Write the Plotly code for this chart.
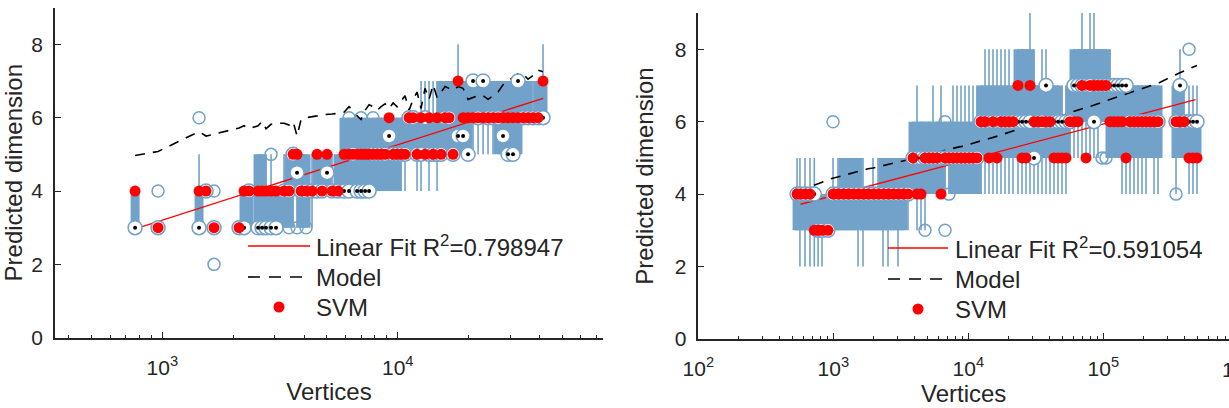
import plotly.graph_objects as go

# ---------------- data: left panel ----------------
L_vertices = [766, 959, 1432, 1533, 1658, 2118, 2224, 2335, 2551, 2652, 2757, 2896, 3041, 3288, 3453,
              3592, 3735, 3884, 4079, 4324, 4542, 4769, 5008, 5259, 5578, 5915, 6210, 6458, 6716, 6985,
              7264, 7554, 7856, 8170, 8497, 8836, 9189, 9557, 9933, 10330, 10740, 11170, 11620, 12080,
              12560, 13060, 13580, 14130, 14690, 15280, 15890, 16520, 17180, 18040, 18950, 19900, 20890,
              21940, 23040, 24190, 25400, 26680, 28010, 29420, 30890, 32430, 34060, 35770, 37560, 39450, 41420]
L_low = [3, 3, 3, 4, 3, 3, 3, 3, 3, 3, 3, 3, 3, 3, 3, 3, 3, 3, 3, 3, 4, 4, 4, 4, 4, 4, 4, 4, 4, 4,
         4, 4, 4, 4, 4, 4, 4, 4, 4, 4, 4, 5, 5, 4, 4, 5, 4, 5, 4, 5, 5, 5, 5, 5, 5, 5, 5, 5, 5, 5,
         5, 5, 5, 5, 5, 5, 6, 6, 6, 6, 6]
L_q1 = [3, 3, 3, 4, 3, 3, 3, 3, 3, 3, 3, 3, 3, 3, 3, 4, 4, 3, 3, 4, 4, 4, 4, 4, 4, 4, 4, 4, 4, 4,
        4, 4, 5, 4, 5, 4, 4, 5, 4, 5, 5, 5, 5, 5, 5, 5, 5, 5, 5, 5, 5, 5, 5, 5, 5, 5, 6, 6, 6, 6,
        6, 5, 5, 5, 5, 5, 6, 6, 6, 6, 6]
L_median = [3, 3, 3, 4, 3, 3, 3, 4, 3, 3, 3, 3, 3, 4, 4, 5, 4.5, 4, 4, 4, 4, 4, 4.5, 4, 4, 4, 4, 5, 4, 4,
            4, 4, 5, 5, 5, 5, 5.5, 5, 5, 5, 5, 6, 6, 5, 5, 6, 5, 5, 5, 5, 6, 6, 5, 5.5, 5.5, 5, 7, 6, 7, 6,
            6, 6, 5.5, 5, 5, 7, 6, 6, 6, 6, 6]
L_q3 = [4, 3, 4, 4, 3, 3, 4, 4, 5, 5, 4, 4, 4, 4, 5, 5, 5, 5, 5, 4, 5, 5, 5, 4, 5, 6, 6, 6, 6, 5,
        6, 5, 6, 6, 6, 6, 6, 6, 6, 6, 6, 6, 6, 6, 6, 6, 6, 6, 6, 7, 7, 7, 7, 7, 7, 7, 7, 7, 7, 7,
        7, 7, 7, 7, 7, 7, 7, 7, 6, 7, 7]
L_high = [4, 3, 5, 4, 3, 3, 4, 4, 5, 5, 5, 5, 4, 5, 5, 5, 5, 5, 5, 5, 5, 5, 5, 5, 5, 6, 6, 6, 6, 6,
          6, 6, 6, 6, 6, 6, 6, 6, 6, 6, 6, 6, 6, 6, 7, 7, 7, 7, 7, 7, 7, 7, 7, 8, 7, 7, 7, 7, 7, 7,
          7, 7, 7, 7, 7, 7, 7, 7, 7, 7, 8]
L_svm = [4, 3, 4, 4, 3, 3, 4, 4, 4, 4, 4, 4, 4, 4, 4, 5, 5, 4, 4, 4, 5, 4, 5, 4, 4, 5, 5, 5, 5, 5,
         5, 5, 5, 5, 5, 5, 6, 5, 5, 5, 5, 6, 6, 5, 6, 5, 6, 5, 6, 5, 6, 6, 5, 7, 6, 6, 6, 6, 6, 6,
         6, 6, 6, 6, 6, 6, 6, 6, 6, 6, 7]
L_model = [4.97, 5.08, 5.62, 5.5, 5.55, 5.72, 5.78, 5.7, 5.78, 5.9, 5.7, 5.82, 5.85, 5.85, 5.8, 5.9, 5.5,
           5.95, 6.0, 6.02, 6.05, 6.08, 6.1, 6.1, 6.12, 6.15, 6.3, 6.2, 6.05, 5.95, 6.2, 6.35, 6.3, 6.2,
           6.3, 6.38, 6.25, 6.4, 6.3, 6.45, 6.6, 6.2, 6.5, 6.7, 6.25, 6.8, 6.5, 6.9, 6.55, 6.7, 6.85, 6.8,
           6.75, 6.85, 6.8, 6.5, 6.55, 6.6, 6.6, 6.5, 6.6, 6.7, 6.9, 7.0, 7.1, 7.2, 7.2, 7.05, 7.15, 7.3, 7.25]
L_outlier_x = [959, 1432, 1658, 1658, 2896, 3453, 3735, 4079, 6210, 6985, 7856]
L_outlier_y = [4, 6, 4, 2, 5, 3, 3, 3, 6, 6, 6]
L_fit_x = [766, 41500]
L_fit_y = [2.97, 6.53]
L_r2 = "0.798947"

# ---------------- data: right panel ----------------
R_vertices = [539, 566, 617, 672, 723, 771, 825, 913, 995, 1083, 1180, 1285, 1400, 1524, 1660, 1807, 1968,
              2144, 2334, 2542, 2768, 3015, 3283, 3576, 3894, 4169, 4463, 4778, 5115, 5476, 5864, 6278,
              6721, 7195, 7704, 8248, 8831, 9454, 10120, 10835, 11600, 12420, 13296, 14234, 15241, 16316,
              17467, 18702, 20023, 21436, 23340, 24990, 26760, 28640, 30670, 32830, 35140, 37640, 40290,
              43130, 46170, 49430, 52920, 56660, 60670, 64940, 69520, 74450, 79680, 85320, 91340, 97820,
              104700, 112100, 120000, 128500, 137600, 147300, 157700, 168800, 180700, 193500, 207200,
              221800, 237500, 254300, 345600, 370000, 396100, 431400, 461800, 494400]
R_low = [3, 2, 2, 2, 2, 2, 2, 3, 3, 3, 3, 3, 3, 2, 2, 3, 3, 3, 2, 2, 3, 2, 3, 3, 4, 3, 3, 3, 4, 4, 4, 4,
         4, 4, 4, 4, 4, 4, 4, 4, 4, 4, 4, 4, 4, 4, 4, 4, 4, 4, 4, 4, 4, 4, 4, 4, 4, 4, 4, 4, 4, 4, 4, 5,
         5, 5, 5, 5, 5, 5, 5, 6, 6, 5, 5, 5, 4, 4, 4, 4, 4, 4, 4, 5, 4, 4, 4, 5, 5, 4, 4, 4]
R_q1 = [3, 3, 3, 3, 3, 3, 3, 3, 3, 3, 3, 3, 3, 3, 3, 3, 3, 3, 3, 3, 3, 3, 3, 4, 4, 4, 4, 4, 4, 4, 4, 4,
        5, 5, 4, 4, 4, 4, 4, 4, 4, 5, 5, 5, 5, 5, 5, 5, 5, 5, 5, 5, 5, 5, 5, 5, 5, 5, 5, 5, 5, 5, 5, 6,
        6, 6, 6, 6, 6, 6, 6, 6, 6, 5, 5, 5, 5, 5, 5, 5, 5, 5, 5, 5, 5, 5, 5, 5, 5, 5, 5, 5]
R_median = [4, 4, 4, 4, 4, 3, 3, 3, 4, 4, 4, 4, 4, 4, 4, 4, 4, 4, 4, 4, 4, 4, 4, 4, 5, 5, 5, 5, 5, 5, 5, 5,
            5, 5, 5, 5, 5, 5, 5, 5, 5, 6, 6, 6, 6, 6, 6, 6, 6, 6, 6, 6, 6, 6, 5, 6, 6, 7, 6, 6, 6, 6, 6, 6,
            7, 7, 7, 7, 7, 6, 7, 7, 7, 7, 7, 7, 7, 7, 6, 6, 6, 6, 6, 6, 6, 6, 6, 7, 6, 6, 6, 6]
R_q3 = [4, 4, 4, 4, 4, 4, 4, 4, 4, 4, 5, 5, 5, 5, 4, 4, 4, 4, 5, 5, 5, 5, 5, 5, 6, 6, 6, 6, 6, 6, 6, 6,
        6, 6, 6, 6, 6, 6, 6, 6, 6, 7, 7, 7, 7, 7, 7, 7, 7, 7, 8, 8, 8, 8, 7, 7, 7, 7, 7, 7, 7, 6, 6, 7,
        8, 8, 8, 8, 8, 8, 8, 8, 8, 7, 7, 7, 7, 7, 7, 7, 7, 7, 7, 7, 7, 7, 7, 7, 6, 6, 6, 6]
R_high = [5, 5, 5, 5, 5, 4, 4, 4, 5, 5, 5, 5, 5, 5, 5, 4, 5, 5, 5, 5, 5, 5, 5, 5, 6, 7, 6, 6, 6, 7, 6, 7,
          6, 6, 7, 7, 7, 7, 7, 7, 7, 7, 8, 8, 8, 8, 8, 8, 8, 7, 8, 8, 8, 9, 8, 7, 8, 8, 7, 7, 7, 7, 7, 7,
          8, 8, 9, 8, 9, 9, 8, 8, 8, 8, 7, 7, 7, 7, 7, 7, 7, 7, 7, 7, 7, 7, 7, 8, 7, 7, 7, 7]
R_svm = [4, 4, 4, 4, 3, 3, 3, 3, 4, 4, 4, 4, 4, 4, 4, 4, 4, 4, 4, 4, 4, 4, 4, 4, 5, 4, 4, 5, 5, 5, 5, 4,
         5, 5, 5, 5, 5, 5, 5, 5, 5, 6, 6, 5, 6, 5, 6, 6, 6, 6, 7, 5, 5, 7, 6, 6, 6, 6, 6, 5, 5, 5, 5, 6,
         6, 6, 7, 5, 7, 7, 7, 7, 7, 6, 6, 6, 6, 5, 6, 6, 6, 6, 6, 6, 6, 6, 6, 6, 6, 5, 5, 5]
R_model = [4.08, 4.1, 4.15, 4.2, 4.24, 4.28, 4.33, 4.4, 4.44, 4.48, 4.52, 4.56, 4.59, 4.63, 4.66, 4.7, 4.72,
           4.75, 4.79, 4.82, 4.85, 4.88, 4.92, 4.95, 4.98, 5.01, 5.04, 5.06, 5.09, 5.12, 5.15, 5.17, 5.2,
           5.23, 5.26, 5.29, 5.31, 5.34, 5.37, 5.4, 5.43, 5.46, 5.5, 5.53, 5.57, 5.6, 5.63, 5.67, 5.71,
           5.75, 5.8, 5.83, 5.86, 5.88, 5.92, 5.96, 6.0, 6.04, 6.07, 6.1, 6.13, 6.16, 6.2, 6.25, 6.29,
           6.32, 6.35, 6.39, 6.42, 6.46, 6.5, 6.54, 6.57, 6.6, 6.64, 6.68, 6.72, 6.76, 6.8, 6.84, 6.87,
           6.91, 6.95, 6.98, 7.02, 7.06, 7.3, 7.34, 7.4, 7.46, 7.5, 7.55]
R_outlier_x = [995, 4778, 6721, 6721, 7195, 97820, 104700, 345600, 431400]
R_outlier_y = [6, 3, 3, 6, 4, 5, 5, 4, 8]
R_fit_x = [572, 482000]
R_fit_y = [3.72, 6.61]
R_r2 = "0.591054"

y_ticks = [0, 2, 4, 6, 8]
L_xticks = [1000, 10000]
L_xticktext = ["10<sup>3</sup>", "10<sup>4</sup>"]
R_xticks = [100, 1000, 10000, 100000]
R_xticktext = ["10<sup>2</sup>", "10<sup>3</sup>", "10<sup>4</sup>", "10<sup>5</sup>"]

BLUE = "#72a2c9"
RED = "#ff0000"
INK = "#262626"
FONT = "Liberation Sans, Arial, Helvetica, sans-serif"
W, H = 1229, 408


def segs(xs, a, b):
    sx, sy = [], []
    for x, lo, hi in zip(xs, a, b):
        sx += [x, x, None]
        sy += [lo, hi, None]
    return sx, sy


def add_panel(fig, xa, ya, X, LO, Q1, MED, Q3, HI, SVM, MODEL, OX, OY, FX, FY):
    wx, wy = segs(X, LO, HI)
    fig.add_trace(go.Scatter(x=wx, y=wy, mode="lines", line=dict(color=BLUE, width=1.6),
                             xaxis=xa, yaxis=ya, hoverinfo="skip"))
    bx, by = segs(X, Q1, Q3)
    fig.add_trace(go.Scatter(x=bx, y=by, mode="lines", line=dict(color=BLUE, width=9),
                             xaxis=xa, yaxis=ya, hoverinfo="skip"))
    fig.add_trace(go.Scatter(x=FX, y=FY, mode="lines", line=dict(color=RED, width=1.3),
                             xaxis=xa, yaxis=ya, name="Linear Fit"))
    fig.add_trace(go.Scatter(x=X, y=MODEL, mode="lines", line=dict(color="black", width=1.6, dash="10px,8px"),
                             xaxis=xa, yaxis=ya, name="Model"))
    fig.add_trace(go.Scatter(x=X, y=MED, mode="markers",
                             marker=dict(symbol="circle", size=14, color="white", line=dict(color=BLUE, width=1.5)),
                             xaxis=xa, yaxis=ya, name="median"))
    fig.add_trace(go.Scatter(x=X, y=MED, mode="markers", marker=dict(symbol="circle", size=4, color="black"),
                             xaxis=xa, yaxis=ya, name="median dot"))
    fig.add_trace(go.Scatter(x=OX, y=OY, mode="markers",
                             marker=dict(symbol="circle-open", size=12, color=BLUE, line=dict(color=BLUE, width=1.5)),
                             xaxis=xa, yaxis=ya, name="outliers"))
    fig.add_trace(go.Scatter(x=X, y=SVM, mode="markers", marker=dict(symbol="circle", size=11, color=RED),
                             xaxis=xa, yaxis=ya, name="SVM"))


fig = go.Figure()
add_panel(fig, "x", "y", L_vertices, L_low, L_q1, L_median, L_q3, L_high, L_svm, L_model,
          L_outlier_x, L_outlier_y, L_fit_x, L_fit_y)
add_panel(fig, "x2", "y2", R_vertices, R_low, R_q1, R_median, R_q3, R_high, R_svm, R_model,
          R_outlier_x, R_outlier_y, R_fit_x, R_fit_y)

axis_common = dict(showline=True, linecolor=INK, linewidth=1.5, ticks="inside", ticklen=6, tickwidth=1.2,
                   tickcolor=INK, showgrid=False, zeroline=False, mirror=False, automargin=False,
                   tickfont=dict(size=21, color=INK, family=FONT))


def minor_vals(lo_dec, hi_dec):
    out = []
    for d in range(lo_dec, hi_dec):
        for m in range(2, 10):
            out.append(m * 10 ** d)
    return out


fig.update_layout(
    width=W, height=H, margin=dict(l=0, r=0, t=0, b=0, autoexpand=False),
    paper_bgcolor="white", plot_bgcolor="white", showlegend=False,
    font=dict(family=FONT, size=21, color=INK),
    xaxis=dict(type="log", domain=[55 / W, 603 / W], range=[2.544, 4.872], anchor="y",
               tickmode="array", tickvals=L_xticks, ticktext=L_xticktext, ticklabelstandoff=10,
               minor=dict(tickmode="array", tickvals=minor_vals(2, 5), ticks="inside", ticklen=3, tickcolor=INK),
               title=dict(text="Vertices", font=dict(size=24, family=FONT, color=INK), standoff=6),
               **axis_common),
    yaxis=dict(domain=[(H - 337.7) / H, (H - 7.7) / H], range=[0, 9], anchor="x",
               tickmode="array", tickvals=y_ticks, ticklabelstandoff=6,
               title=dict(text="Predicted dimension", font=dict(size=24, family=FONT, color=INK), standoff=14),
               **axis_common),
    xaxis2=dict(type="log", domain=[698.3 / W, 1.0], range=[2.0, 5.931], anchor="y2",
                tickmode="array", tickvals=R_xticks, ticktext=R_xticktext, ticklabelstandoff=10,
                minor=dict(tickmode="array", tickvals=minor_vals(2, 6), ticks="inside", ticklen=3, tickcolor=INK),
                title=dict(text="Vertices", font=dict(size=24, family=FONT, color=INK), standoff=6),
                **axis_common),
    yaxis2=dict(domain=[(H - 339) / H, (H - 13) / H], range=[0, 9], anchor="x2",
                tickmode="array", tickvals=y_ticks, ticklabelstandoff=6,
                title=dict(text="Predicted dimension", font=dict(size=24, family=FONT, color=INK), standoff=14),
                **axis_common),
)


# ---- manual legends (paper coordinates) ----
def px(x):
    return x / W


def py(y):
    return (H - y) / H


def add_legend(x0, x1, xt, y_rows, r2):
    shapes = [
        dict(type="line", xref="paper", yref="paper", x0=px(x0), x1=px(x1), y0=py(y_rows[0]), y1=py(y_rows[0]),
             line=dict(color=RED, width=1.3)),
        dict(type="line", xref="paper", yref="paper", x0=px(x0), x1=px(x1), y0=py(y_rows[1]), y1=py(y_rows[1]),
             line=dict(color="black", width=1.6, dash="12px,9px")),
        dict(type="circle", xref="paper", yref="paper", x0=px((x0 + x1) / 2 - 5.5), x1=px((x0 + x1) / 2 + 5.5),
             y0=py(y_rows[2] + 5.5), y1=py(y_rows[2] - 5.5), fillcolor=RED, line=dict(width=0)),
    ]
    texts = ["Linear Fit R<sup>2</sup>=" + r2, "Model", "SVM"]
    anns = [dict(xref="paper", yref="paper", x=px(xt), y=py(yy), text=t, showarrow=False, xanchor="left",
                 yanchor="middle", font=dict(size=24, family=FONT, color=INK)) for t, yy in zip(texts, y_rows)]
    return shapes, anns


s1, a1 = add_legend(248, 310, 314, [246, 277, 307], L_r2)
s2, a2 = add_legend(888, 948, 953, [248, 279, 309], R_r2)
# tick label of 10^6 that falls just past the right edge of the picture
a_extra = [dict(xref="paper", yref="paper", x=px(1238.3), y=py(368), text="10<sup>6</sup>", showarrow=False,
                xanchor="center", yanchor="middle", font=dict(size=21, family=FONT, color=INK))]
fig.update_layout(shapes=s1 + s2, annotations=a1 + a2 + a_extra)

fig.write_html("out.html")
